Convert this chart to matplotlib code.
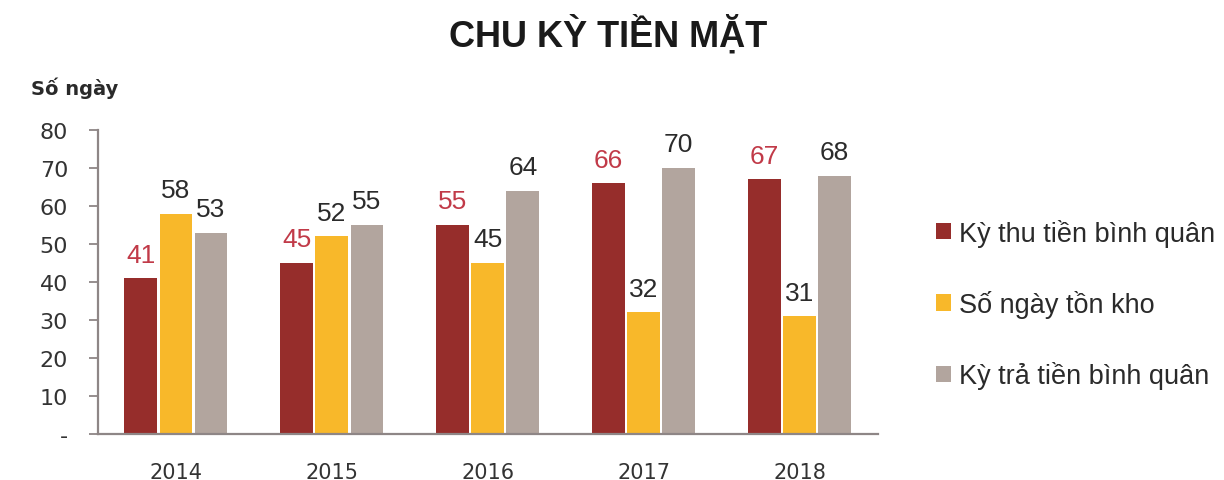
import numpy as np
import matplotlib
matplotlib.use("Agg")
import matplotlib.pyplot as plt

# data
years = ["2014", "2015", "2016", "2017", "2018"]
ky_thu = [41, 45, 55, 66, 67]
ton_kho = [58, 52, 45, 32, 31]
ky_tra = [53, 55, 64, 70, 68]
series_names = ["Kỳ thu tiền bình quân", "Số ngày tồn kho", "Kỳ trả tiền bình quân"]
y_ticks = [0, 10, 20, 30, 40, 50, 60, 70, 80]
y_tick_labels = ["-", "10", "20", "30", "40", "50", "60", "70", "80"]

colors = ["#962D2B", "#F8B82A", "#B2A59E"]
label_colors = ["#C13A48", "#2B2B2B", "#2B2B2B"]
spine_col = "#8E8686"

fig = plt.figure(figsize=(12.24, 4.81), dpi=100)
ax = fig.add_axes([0.080, 0.0956, 0.637, 0.632])

x = np.arange(len(years))
w = 0.21
offsets = [-0.225, 0.0, 0.225]

handles = []
for vals, off, c, lc, name in zip([ky_thu, ton_kho, ky_tra], offsets, colors, label_colors, series_names):
    bars = ax.bar(x + off, vals, width=w, color=c, linewidth=0, label=name)
    handles.append(bars)
    for xi, v in zip(x + off, vals):
        ax.annotate(str(v), (xi, v), xytext=(0, 12), textcoords="offset points",
                    ha="center", va="baseline", fontsize=19, color=lc,
                    family="Liberation Sans")

ax.set_xlim(-0.5, 4.5)
ax.set_ylim(0, 80)
ax.set_yticks(y_ticks)
ax.set_yticklabels(y_tick_labels)
ax.set_xticks(x)
ax.set_xticklabels(years)

for s in ["top", "right"]:
    ax.spines[s].set_visible(False)
for s in ["left", "bottom"]:
    ax.spines[s].set_color(spine_col)
    ax.spines[s].set_linewidth(1.6)

ax.tick_params(axis="y", length=6.5, width=1.3, color=spine_col, pad=15,
               labelsize=16, labelcolor="#333333")
ax.tick_params(axis="x", length=0, pad=20, labelsize=15, labelcolor="#333333")

fig.text(0.497, 0.927, "CHU KỲ TIỀN MẶT", ha="center", va="center",
         fontsize=26, fontweight="bold", family="Liberation Sans", color="#1a1a1a")
fig.text(0.025, 0.817, "Số ngày", ha="left", va="center",
         fontsize=14, fontweight="bold", color="#2a2a2a")

leg = fig.legend(handles=handles, labels=series_names, loc="center left",
                 bbox_to_anchor=(0.749, 0.366), frameon=False,
                 prop={"family": "Liberation Sans", "size": 19.5},
                 handlelength=0.55, handleheight=0.55, handletextpad=0.3,
                 labelspacing=1.6, borderpad=0.2)
for t in leg.get_texts():
    t.set_color("#2a2a2a")

fig.savefig("out.png", dpi=100)
